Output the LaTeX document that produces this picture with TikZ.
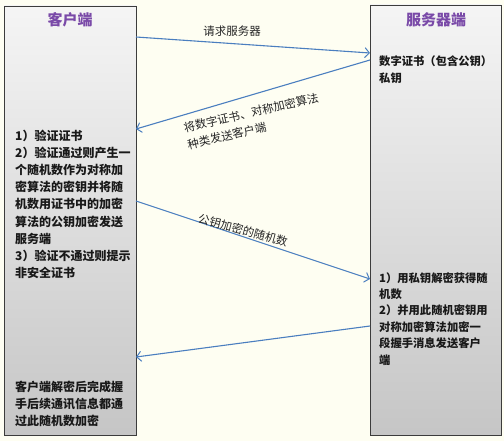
\documentclass[tikz,border=0pt]{standalone}
\usepackage{fontspec}
\setmainfont{Noto Sans CJK SC}
\usetikzlibrary{arrows.meta,shadows}
\definecolor{bgcream}{HTML}{FEFEF2}
\definecolor{arrowblue}{HTML}{4A7EBF}
\definecolor{titlepurple}{HTML}{7A4AA8}
\definecolor{boxedge}{HTML}{3C3C3C}
\tikzset{
  sidebox/.style={draw=boxedge, line width=0.9pt, rectangle, inner sep=0pt,
    top color=gray!8, bottom color=gray!45,
    drop shadow={opacity=0.35, shadow xshift=1.2pt, shadow yshift=-1.2pt}},
  titletext/.style={text=titlepurple, font=\fontsize{15}{18}\selectfont\bfseries, inner sep=0pt},
  bodytext/.style={align=left, anchor=north west, inner sep=0pt, text=black!90,
    font=\fontsize{12}{17.2}\selectfont\bfseries},
  rbodytext/.style={align=left, anchor=north west, inner sep=0pt, text=black!90,
    font=\fontsize{11.3}{16.4}\selectfont\bfseries},
  msg/.style={draw=arrowblue, line width=1.1pt, -{Straight Barb[length=4.5pt,width=10pt,line width=1pt]}},
  msglabel/.style={inner sep=0pt, text=black!85, font=\fontsize{11.5}{17}\selectfont}
}
\begin{document}
\begin{tikzpicture}[x=1pt,y=-1pt]
\fill[bgcream] (0,0) rectangle (504,441);
\useasboundingbox (0,0) rectangle (504,441);

\node[sidebox, minimum width=132pt, minimum height=429pt] (client) at (70,220.5) {};
\node[sidebox, minimum width=131pt, minimum height=430pt] (server) at (435.5,220) {};

\node[titletext] (ctitle) at (70,20) {客户端};
\node[titletext] (stitle) at (436,20) {服务器端};

\node[bodytext] (ctext) at (15,129.5) {1）验证证书\\2）验证通过则产生一\\个随机数作为对称加\\密算法的密钥并将随\\机数用证书中的加密\\算法的公钥加密发送\\服务端\\3）验证不通过则提示\\非安全证书};
\node[bodytext] (cend) at (15,380.5) {客户端解密后完成握\\手后续通讯信息都通\\过此随机数加密};

\node[rbodytext] (stext) at (379,56) {数字证书（包含公钥）\\私钥};
\node[rbodytext] (send) at (379,272) {1）用私钥解密获得随\\机数\\2）并用此随机密钥用\\对称加密算法加密一\\段握手消息发送客户\\端};

\coordinate (m1s) at (136,37);
\coordinate (m1e) at (370,53);
\coordinate (m2s) at (370,60);
\coordinate (m2e) at (136,129);
\coordinate (m3s) at (136,201);
\coordinate (m3e) at (370,279);
\coordinate (m4s) at (370,326);
\coordinate (m4e) at (136,357);

\draw[msg] (m1s) -- (m1e);
\draw[msg] (m2s) -- (m2e);
\draw[msg] (m3s) -- (m3e);
\draw[msg] (m4s) -- (m4e);

\node[msglabel] (l1) at (232,31) {请求服务器};
\node[msglabel, align=left, rotate=13] (l2) at (253,121) {将数字证书、对称加密算法\\种类发送客户端};
\node[msglabel, rotate=-15] (l3) at (243,230) {公钥加密的随机数};
\end{tikzpicture}
\end{document}
